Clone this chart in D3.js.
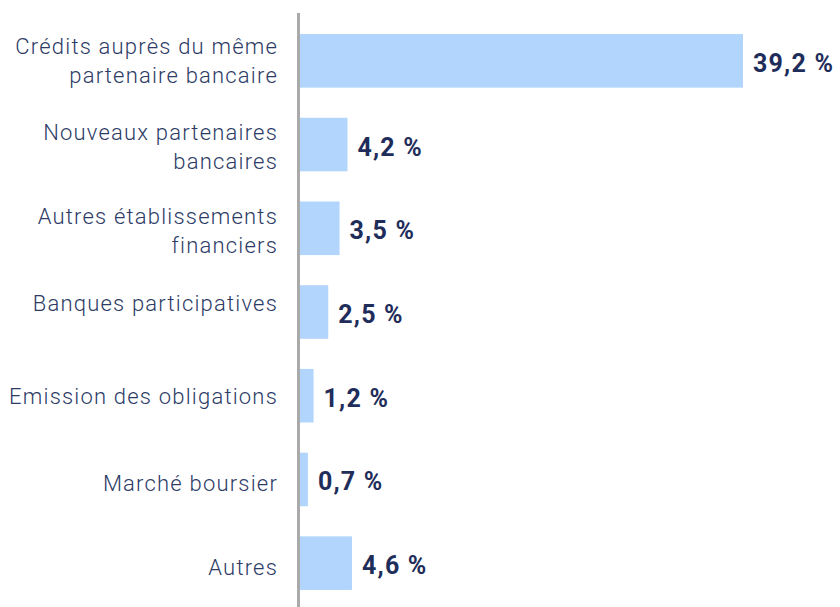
<!DOCTYPE html>
<html>
<head>
<meta charset="utf-8">
<script src="https://d3js.org/d3.v7.min.js"></script>
<style>
body { margin: 0; background: #fff; }
.lbl { font-family: Roboto, sans-serif; font-size: 22px; font-weight: 300; letter-spacing: 1.2px; fill: #2d3b66; }
.val { font-family: Roboto, sans-serif; font-size: 25px; font-weight: bold; letter-spacing: 1.2px; fill: #1f2d5a; }
</style>
</head>
<body>
<svg></svg>
<script>
var width = 840;
var height = 607;

var categories = [
  ["Crédits auprès du même", "partenaire bancaire"],
  ["Nouveaux partenaires", "bancaires"],
  ["Autres établissements", "financiers"],
  ["Banques participatives"],
  ["Emission des obligations"],
  ["Marché boursier"],
  ["Autres"]
];
var values = [39.2, 4.2, 3.5, 2.5, 1.2, 0.7, 4.6];
// small vertical nudges of the category labels as seen in the reference
var labelShift = [0, 2, 2, -9, 0, 4, 4];

var svg = d3.select("svg")
    .attr("width", width)
    .attr("height", height);

var x0 = 300;
var x = d3.scaleLinear()
    .domain([0, 39.2])
    .range([x0, 743]);

var y = d3.scaleBand()
    .domain(d3.range(values.length))
    .range([19, 605])
    .paddingInner(0.36)
    .paddingOuter(0.18);

// Bars
svg.selectAll(".bar")
    .data(values)
    .enter()
    .append("rect")
    .attr("class", "bar")
    .attr("x", x0)
    .attr("y", function(d, i) { return y(i); })
    .attr("width", function(d) { return x(d) - x0; })
    .attr("height", y.bandwidth())
    .attr("fill", "#b2d5fd");

// Axis line
svg.append("line")
    .attr("x1", 298.5).attr("x2", 298.5)
    .attr("y1", 13).attr("y2", height)
    .attr("stroke", "#aaaaaa")
    .attr("stroke-width", 3);

// Value labels
svg.selectAll(".val")
    .data(values)
    .enter()
    .append("text")
    .attr("class", "val")
    .attr("x", function(d) { return x(d) + 10; })
    .attr("y", function(d, i) { return y(i) + y.bandwidth() / 2 + 2; })
    .attr("dy", "0.36em")
    .text(function(d) { return d3.format(".1f")(d).replace(".", ",") + " %"; });

// Category labels
var lbl = svg.selectAll(".lbl")
    .data(categories)
    .enter()
    .append("text")
    .attr("class", "lbl")
    .attr("text-anchor", "end")
    .attr("x", 278)
    .attr("y", function(d, i) { return y(i) + y.bandwidth() / 2 + labelShift[i]; });

lbl.selectAll("tspan")
    .data(function(d) { return d.map(function(s, j) { return {s: s, j: j, n: d.length}; }); })
    .enter()
    .append("tspan")
    .attr("x", 278)
    .attr("dy", function(t) {
        if (t.j === 0) return (0.36 - (t.n - 1) * 0.65) + "em";
        return "1.3em";
    })
    .text(function(t) { return t.s; });
</script>
</body>
</html>
